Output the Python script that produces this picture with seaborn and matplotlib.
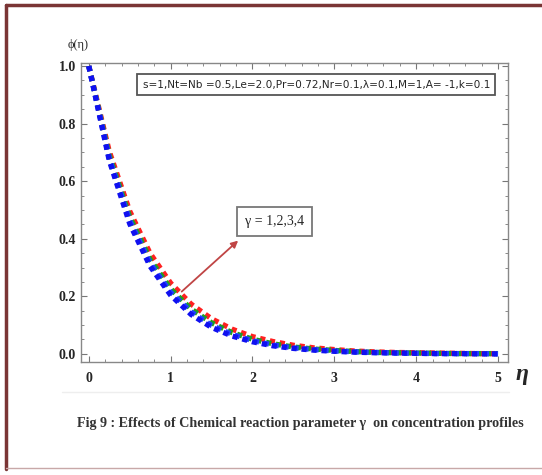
import numpy as np
import pandas as pd
import matplotlib
matplotlib.use("Agg")
import matplotlib.pyplot as plt
import matplotlib.lines as mlines
import seaborn as sns

# data
eta = [0.0, 0.25, 0.5, 0.75, 1.0, 1.25, 1.5, 1.75, 2.0, 2.25, 2.5,
       2.75, 3.0, 3.25, 3.5, 3.75, 4.0, 4.25, 4.5, 4.75, 5.0]
phi_g1 = [1.0, 0.704, 0.496, 0.349, 0.246, 0.173, 0.122, 0.086, 0.060, 0.043, 0.030,
          0.021, 0.015, 0.010, 0.007, 0.005, 0.004, 0.003, 0.002, 0.001, 0.001]
phi_g2 = [1.0, 0.690, 0.476, 0.328, 0.226, 0.156, 0.108, 0.074, 0.051, 0.035, 0.024,
          0.017, 0.012, 0.008, 0.005, 0.004, 0.003, 0.002, 0.001, 0.001, 0.001]
phi_g3 = [1.0, 0.680, 0.463, 0.315, 0.214, 0.146, 0.099, 0.068, 0.046, 0.031, 0.021,
          0.015, 0.010, 0.007, 0.005, 0.003, 0.002, 0.001, 0.001, 0.001, 0.000]
phi_g4 = [1.0, 0.672, 0.452, 0.304, 0.204, 0.137, 0.092, 0.062, 0.042, 0.028, 0.019,
          0.013, 0.009, 0.006, 0.004, 0.003, 0.002, 0.001, 0.001, 0.000, 0.000]
gammas = ["1", "2", "3", "4"]
colors = ["#ff2020", "#20a020", "#2040ff", "#1010f0"]

df = pd.concat([
    pd.DataFrame({"eta": eta, "phi": v, "gamma": g})
    for g, v in zip(gammas, [phi_g1, phi_g2, phi_g3, phi_g4])
])

sns.set_style("ticks")
plt.rcParams["font.family"] = ["Liberation Serif", "DejaVu Serif"]

fig = plt.figure(figsize=(5.42, 4.75), dpi=100)
ax = fig.add_axes([0.149, 0.238, 0.788, 0.629])

sns.lineplot(data=df, x="eta", y="phi", hue="gamma", palette=colors,
             style="gamma", dashes=[(1.0, 0.9)] * 4, linewidth=3.8,
             legend=False, ax=ax)

ax.set_xlim(-0.098, 5.12)
ax.set_ylim(-0.028, 1.01)
ax.set_xticks([0, 1, 2, 3, 4, 5])
ax.set_xticks(np.arange(0, 5.01, 0.2), minor=True)
ax.set_yticks([0.0, 0.2, 0.4, 0.6, 0.8, 1.0])
ax.set_yticks(np.arange(0, 1.001, 0.05), minor=True)
ax.set_yticklabels(["0.0", "0.2", "0.4", "0.6", "0.8", "1.0"])
ax.tick_params(which="both", direction="in", top=True, right=True, color="#777777")
ax.tick_params(which="major", length=4, width=0.8, labelsize=10)
ax.tick_params(axis="x", which="major", pad=7)
ax.tick_params(which="minor", length=2, width=0.6)
for lab in ax.get_xticklabels() + ax.get_yticklabels():
    lab.set_fontweight("bold")
for sp in ax.spines.values():
    sp.set_color("#888888")
    sp.set_linewidth(1.0)
ax.set_xlabel("")
ax.set_ylabel("")

fig.text(0.125, 0.905, "ϕ(η)", fontsize=9, ha="left", va="center")
fig.text(0.963, 0.212, "η", fontsize=17, fontweight="bold", style="italic",
         ha="center", va="center")

ax.text(0.145, 0.928,
        "s=1,Nt=Nb =0.5,Le=2.0,Pr=0.72,Nr=0.1,λ=0.1,M=1,A= -1,k=0.1",
        transform=ax.transAxes, fontsize=7.6, family=["DejaVu Sans"],
        ha="left", va="center",
        bbox=dict(boxstyle="square,pad=0.5", fc="white", ec="#555555", lw=1.3))

ax.annotate("", xy=(1.85, 0.40), xytext=(1.11, 0.21),
            arrowprops=dict(arrowstyle="-|>", color="#c04545", lw=1.3,
                            mutation_scale=10))
ax.text(2.27, 0.46, "γ = 1,2,3,4", fontsize=10, ha="center", va="center",
        bbox=dict(boxstyle="square,pad=0.55", fc="white", ec="#777777", lw=1.3))

fig.text(0.554, 0.108,
         "Fig 9 : Effects of Chemical reaction parameter γ  on concentration profiles",
         fontsize=10.2, fontweight="bold", ha="center", va="center", color="#333333")

# page border
fig.add_artist(mlines.Line2D([0.011, 0.011], [0.012, 0.99], color="#7a3535", lw=2.5))
fig.add_artist(mlines.Line2D([0.011, 1.0], [0.99, 0.99], color="#7a3535", lw=2.5))
fig.add_artist(mlines.Line2D([0.011, 1.0], [0.014, 0.014], color="#c8a8a8", lw=1.0))
fig.add_artist(mlines.Line2D([0.115, 0.94], [0.175, 0.175], color="#eeeeee", lw=1.0))

fig.savefig("out.png", dpi=100)
